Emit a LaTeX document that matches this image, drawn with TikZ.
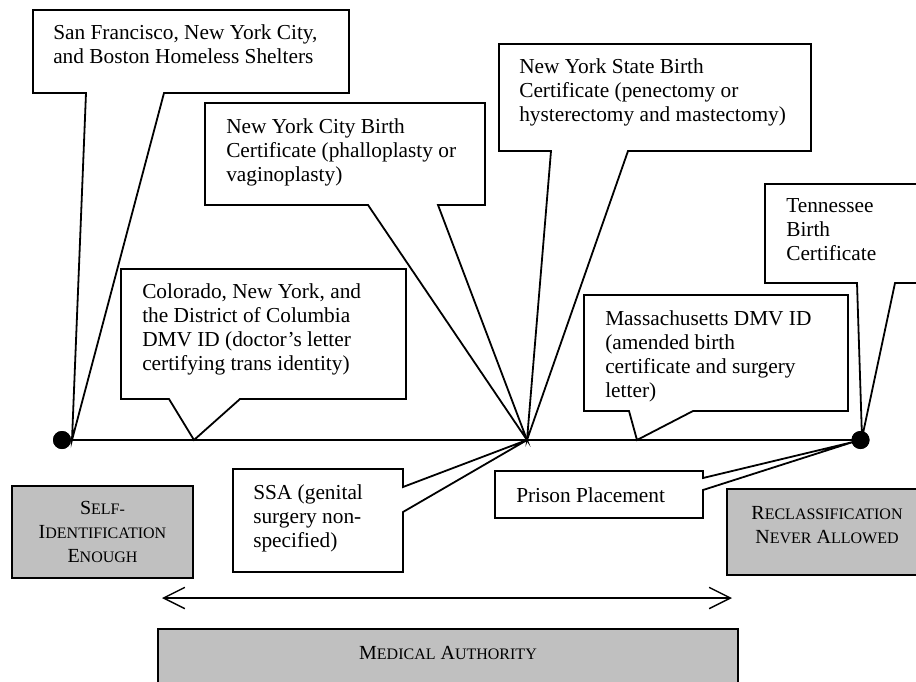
\documentclass[tikz,border=0pt]{standalone}
\usepackage{fontspec}
\setmainfont{Liberation Serif}
\usetikzlibrary{arrows.meta}
\definecolor{gfill}{HTML}{C0C0C0}
\newcommand\smc[1]{{\fontsize{12}{18}\selectfont #1}}
\begin{document}
\begin{tikzpicture}[x=0.75pt,y=-0.75pt,
  cbox/.style={draw=black,fill=white,line width=1.35pt,line join=miter},
  gbox/.style={draw=black,fill=gfill,line width=1.35pt},
  txt/.style={anchor=north west,inner sep=0pt,align=left,font=\fontsize{16}{18}\selectfont},
  gtxt/.style={anchor=north,inner sep=0pt,align=center,font=\fontsize{15}{18}\selectfont},
  dotnode/.style={circle,fill=black,inner sep=0pt,minimum size=13.5pt},
  ln/.style={line width=1.05pt}]
\useasboundingbox (0,0) rectangle (916,681);

% axis and its points
\node[dotnode] (L) at (62,440) {};
\node[dotnode] (R) at (860.5,440) {};
\draw[ln] (L.center) -- (R.center);
\coordinate (ctr) at (527,440);
\coordinate (tipSF) at (72,440);
\coordinate (tipCO) at (194,440);
\coordinate (tipMA) at (637,440);
\coordinate (tipTN) at (862,438);
\coordinate (tipPR) at (853,442);

% callouts
\draw[cbox] (33,10) -- (349,10) -- (349,93) -- (164,93) -- (tipSF) -- (86,93) -- (33,93) -- cycle;
\node[txt] (sf) at (53,24.5) {San Francisco, New York City,\\and Boston Homeless Shelters};

\draw[cbox] (205,103) -- (485,103) -- (485,205) -- (438,205) -- (ctr) -- (368,205) -- (205,205) -- cycle;
\node[txt] (nyc) at (226,118.5) {New York City Birth\\Certificate (phalloplasty or\\vaginoplasty)};

\draw[cbox] (499,44) -- (811,44) -- (811,151) -- (628,151) -- (ctr) -- (551,151) -- (499,151) -- cycle;
\node[txt] (nys) at (519,58.5) {New York State Birth\\Certificate (penectomy or\\hysterectomy and mastectomy)};

\draw[cbox] (765,184) -- (930,184) -- (930,283) -- (895,283) -- (tipTN) -- (857,283) -- (765,283) -- cycle;
\node[txt] (tn) at (786,198.5) {Tennessee\\Birth\\Certificate};

\draw[cbox] (121,269) -- (406,269) -- (406,399) -- (240,399) -- (tipCO) -- (169,399) -- (121,399) -- cycle;
\node[txt] (co) at (142,283.5) {Colorado, New York, and\\the District of Columbia\\DMV ID (doctor’s letter\\certifying trans identity)};

\draw[cbox] (584,295) -- (848,295) -- (848,411) -- (693,411) -- (tipMA) -- (629,411) -- (584,411) -- cycle;
\node[txt] (ma) at (605,310.5) {Massachusetts DMV ID\\(amended birth\\certificate and surgery\\letter)};

\draw[cbox] (233,469) -- (403,469) -- (403,487) -- (ctr) -- (403,512) -- (403,572) -- (233,572) -- cycle;
\node[txt] (ssa) at (253,484.5) {SSA (genital\\surgery non-\\specified)};

\draw[cbox] (495,471) -- (703,471) -- (703,478) -- (tipPR) -- (703,490) -- (703,518) -- (495,518) -- cycle;
\node[txt] (pr) at (516,487.5) {Prison Placement};

% dots on top
\fill (L) circle (6.75pt);
\fill (R) circle (6.75pt);

% gray boxes
\draw[gbox] (12,486) rectangle (193,578);
\node[gtxt] (self) at (102.5,501) {S\smc{ELF-}\\I\smc{DENTIFICATION}\\E\smc{NOUGH}};

\draw[gbox] (727,489) rectangle (930,575);
\node[gtxt] (recl) at (827,506) {R\smc{ECLASSIFICATION}\\N\smc{EVER} A\smc{LLOWED}};

\draw[gbox] (158,629) rectangle (738,700);
\node[gtxt,anchor=base] (med) at (448,659) {M\smc{EDICAL} A\smc{UTHORITY}};

% scale arrow
\coordinate (aL) at (162,598);
\coordinate (aR) at (732,598);
\draw[ln,{Straight Barb[length=16pt,width=16pt]}-{Straight Barb[length=16pt,width=16pt]}] (aL) -- (aR);
\end{tikzpicture}
\end{document}
